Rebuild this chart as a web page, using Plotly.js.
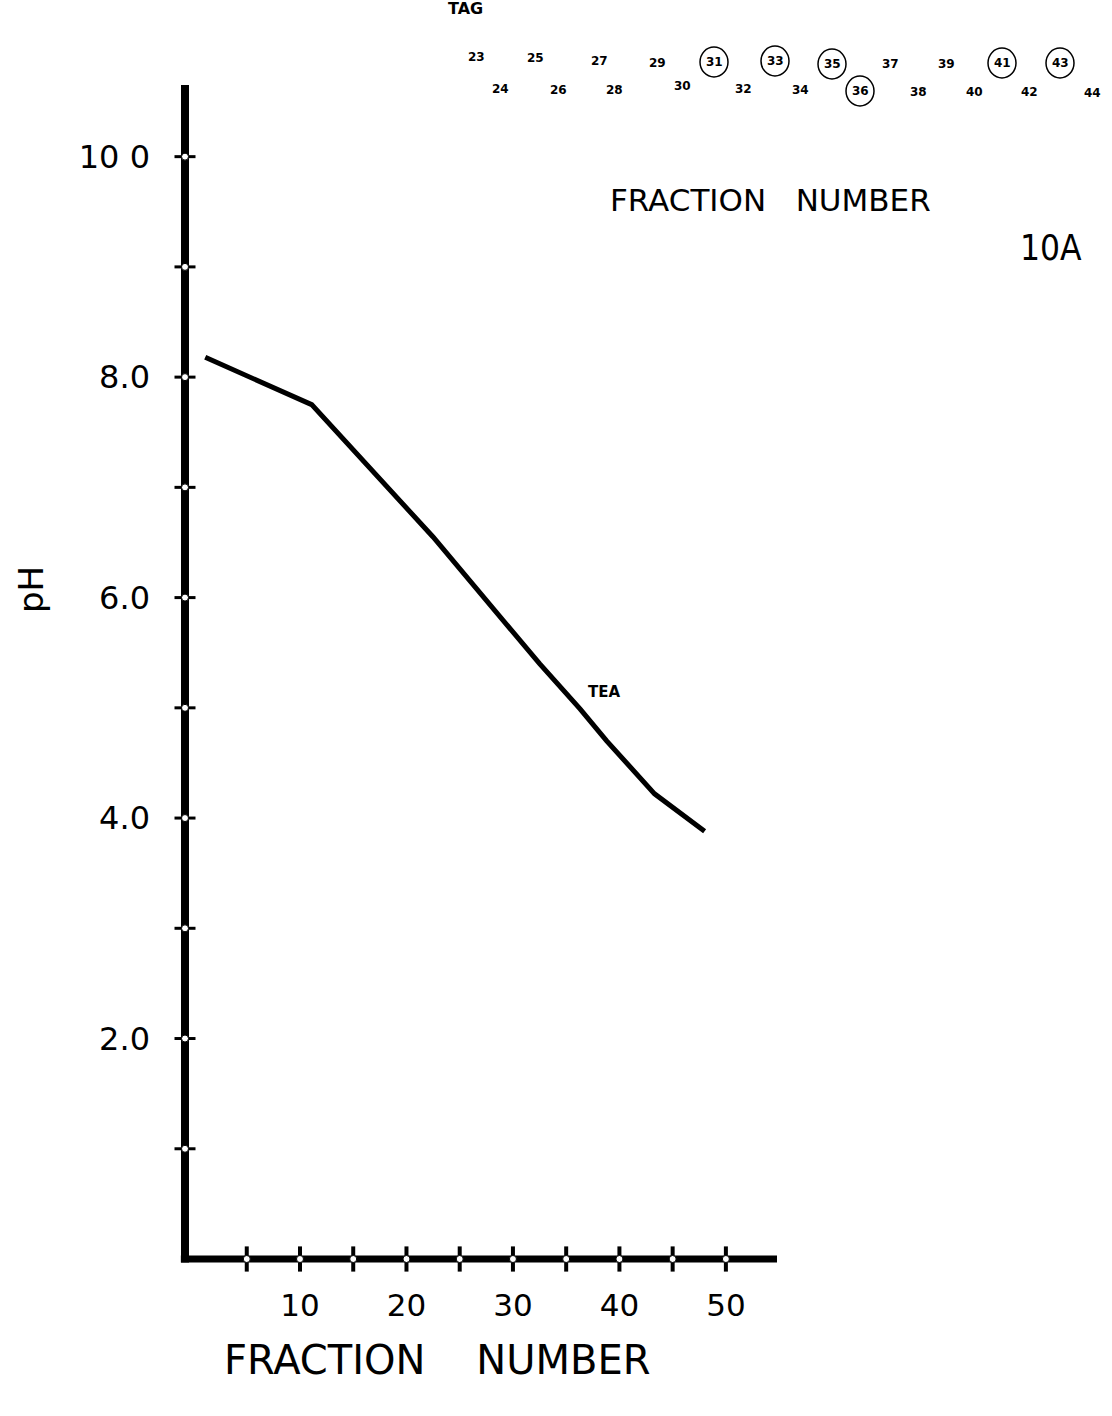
<!DOCTYPE html>
<html>
<head>
<meta charset="utf-8">
<script src="https://cdn.plot.ly/plotly-3.0.1.min.js"></script>
<style>
  html, body { margin: 0; padding: 0; background: #ffffff; }
  #chart { width: 1112px; height: 1416px; }
</style>
</head>
<body>
<div id="chart"></div>
<script>
// ---- data ----
var fractionNumber = [1.1, 11.1, 22.5, 32.5, 36.3, 38.8, 43.3, 48.0];
var pHValues       = [8.18, 7.75, 6.55, 5.40, 4.99, 4.70, 4.22, 3.88];

var xTickVals   = [10, 20, 30, 40, 50];
var xTickText   = ['10', '20', '30', '40', '50'];
var xMarkTicks  = [5, 10, 15, 20, 25, 30, 35, 40, 45, 50];
var yTickVals   = [2, 4, 6, 8, 10];
var yTickText   = ['2.0', '4.0', '6.0', '8.0', '10 0'];
var yMarkTicks  = [1, 2, 3, 4, 5, 6, 7, 8, 9, 10];

// fragment of the neighbouring figure (fraction numbers of the TAG lane)
var topRow1 = ['23', '25', '27', '29', '31', '33', '35', '37', '39', '41', '43'];
var topRow2 = ['24', '26', '28', '30', '32', '34', '36', '38', '40', '42', '44'];
var circledNumbers = ['31', '33', '35', '41', '43', '36'];

// ---- layout geometry (pixels) ----
var W = 1112, H = 1416;
var M = { l: 185, r: 335, t: 85, b: 157 };
var PW = W - M.l - M.r, PH = H - M.t - M.b;
var XR = [-0.8, 54.8], YR = [0, 10.65];
function px(x) { return (x - M.l) / PW; }
function py(y) { return (H - M.b - y) / PH; }

var FONT = '"DejaVu Sans", sans-serif';
var BOLD = '"DejaVu Sans", sans-serif';

var traces = [
  {
    x: fractionNumber, y: pHValues, type: 'scatter', mode: 'lines',
    line: { color: '#000', width: 5 }, hoverinfo: 'skip', showlegend: false
  },
  // tick beads on the x axis
  {
    x: xMarkTicks, y: xMarkTicks.map(function () { return YR[0]; }),
    type: 'scatter', mode: 'markers', cliponaxis: false, hoverinfo: 'skip', showlegend: false,
    marker: { symbol: 'line-ns-open', size: 18, color: '#000', line: { color: '#000', width: 4 } }
  },
  {
    x: xMarkTicks, y: xMarkTicks.map(function () { return YR[0]; }),
    type: 'scatter', mode: 'markers', cliponaxis: false, hoverinfo: 'skip', showlegend: false,
    marker: { symbol: 'circle', size: 7, color: '#fff', line: { color: '#000', width: 1 } }
  },
  // tick beads on the y axis
  {
    x: yMarkTicks.map(function () { return XR[0]; }), y: yMarkTicks,
    type: 'scatter', mode: 'markers', cliponaxis: false, hoverinfo: 'skip', showlegend: false,
    marker: { symbol: 'line-ew-open', size: 15, color: '#000', line: { color: '#000', width: 3 } }
  },
  {
    x: yMarkTicks.map(function () { return XR[0]; }), y: yMarkTicks,
    type: 'scatter', mode: 'markers', cliponaxis: false, hoverinfo: 'skip', showlegend: false,
    marker: { symbol: 'circle', size: 7, color: '#fff', line: { color: '#000', width: 1 } }
  }
];

var row1X = [476, 535, 599, 657, 714, 775, 832, 890, 946, 1002, 1060];
var row1Y = [57, 58, 61, 63, 62, 61, 64, 64, 64, 63, 63];
var row2X = [500, 558, 614, 682, 743, 800, 860, 918, 974, 1029, 1092];
var row2Y = [89, 90, 90, 86, 89, 90, 91, 92, 92, 92, 93];

var annotations = [];
var shapes = [
  // axis lines (drawn centred on the plot edges)
  { type: 'line', layer: 'below', xref: 'paper', yref: 'paper', x0: 0, x1: 0, y0: -0.003, y1: 1,
    line: { color: '#000', width: 8 } },
  { type: 'line', layer: 'below', xref: 'paper', yref: 'paper', x0: -0.007, x1: 1, y0: 0, y1: 0,
    line: { color: '#000', width: 7 } }
];
function addText(text, x, y, size, font, extra) {
  var a = {
    text: text, xref: 'paper', yref: 'paper', x: px(x), y: py(y),
    xanchor: 'center', yanchor: 'middle', showarrow: false,
    font: { family: font || FONT, size: size, color: '#000' }
  };
  if (extra) { for (var k in extra) a[k] = extra[k]; }
  annotations.push(a);
}
function boldFont(s) { return { font: { family: BOLD, size: s, color: '#000', weight: 'bold' } }; }

addText('TAG', 465, 9, 16, BOLD, boldFont(16));
for (var i = 0; i < topRow1.length; i++) {
  addText(topRow1[i], row1X[i], row1Y[i], 12, BOLD, boldFont(12));
  addText(topRow2[i], row2X[i], row2Y[i], 12, BOLD, boldFont(12));
}
function circleAt(cx, cy) {
  shapes.push({
    type: 'circle', xref: 'paper', yref: 'paper',
    x0: px(cx - 14), x1: px(cx + 14), y0: py(cy + 15), y1: py(cy - 15),
    line: { color: '#000', width: 1.5 }
  });
}
circledNumbers.forEach(function (n) {
  var j = topRow1.indexOf(n);
  if (j >= 0) circleAt(row1X[j], row1Y[j]);
  else { j = topRow2.indexOf(n); circleAt(row2X[j], row2Y[j]); }
});

addText('FRACTION\u00A0\u00A0\u00A0NUMBER', 770, 200, 31);
addText('10A', 1051, 248, 35, '"Liberation Sans Narrow", "DejaVu Sans Condensed", sans-serif');
addText('TEA', 604, 692, 15, BOLD, boldFont(15));
addText('FRACTION\u00A0\u00A0\u00A0\u00A0NUMBER', 437, 1360, 40);
addText('pH', 31, 590, 34, FONT, { textangle: -90 });

var layout = {
  width: W, height: H,
  margin: M,
  paper_bgcolor: '#fff', plot_bgcolor: '#fff',
  showlegend: false,
  xaxis: {
    range: XR, showgrid: false, zeroline: false, showline: false,
    ticks: '', tickvals: xTickVals, ticktext: xTickText,
    tickfont: { family: FONT, size: 31, color: '#000' },
    ticklabelstandoff: 25, fixedrange: true
  },
  yaxis: {
    range: YR, showgrid: false, zeroline: false, showline: false,
    ticks: '', tickvals: yTickVals, ticktext: yTickText,
    tickfont: { family: FONT, size: 32, color: '#000' },
    ticklabelstandoff: 34, fixedrange: true
  },
  annotations: annotations,
  shapes: shapes
};

Plotly.newPlot('chart', traces, layout, { displayModeBar: false, staticPlot: true });
</script>
</body>
</html>
